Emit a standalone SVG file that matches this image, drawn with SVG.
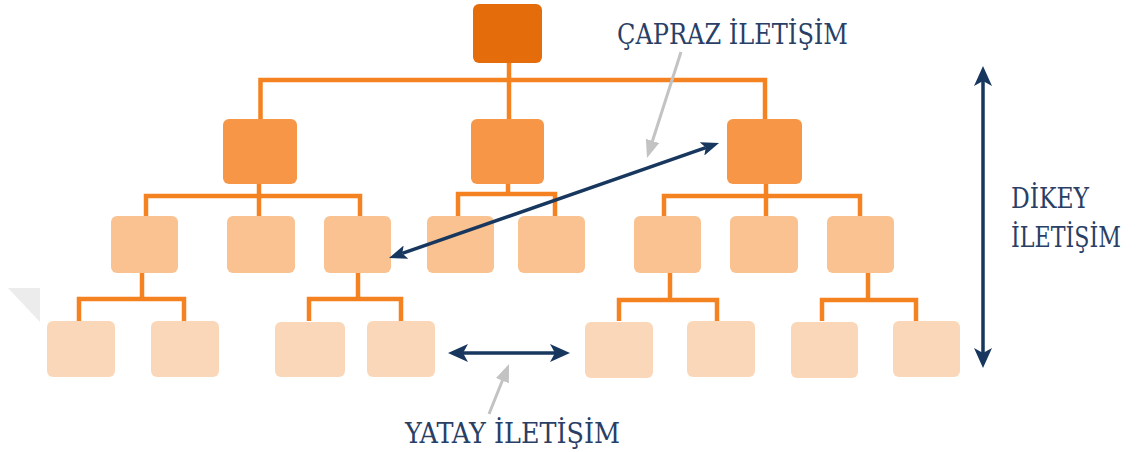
<svg xmlns="http://www.w3.org/2000/svg" width="1141" height="452" viewBox="0 0 1141 452">
  <style>
    .l1 { fill: #E46C0A; }
    .l2 { fill: #F79646; }
    .l3 { fill: #F9C290; }
    .l4 { fill: #FBD7B9; }
    .wire { fill: none; stroke: #F58220; stroke-width: 4.5; stroke-linejoin: miter; }
    .nav { fill: none; stroke: #17375E; stroke-width: 3.5; }
    .hint { fill: none; stroke: #C3C3C3; stroke-width: 3; }
    .lbl { font-family: "DejaVu Serif", "Liberation Serif", serif; font-stretch: condensed; font-size: 28px; fill: #2A3F66; }
  </style>
  <defs>
    <marker id="headBig" markerUnits="userSpaceOnUse" viewBox="0 0 20 18" markerWidth="20" markerHeight="18" refX="5" refY="9" orient="auto-start-reverse">
      <path d="M0,0 L20,9 L0,18 L5,9 z" fill="#17375E"/>
    </marker>
    <marker id="headSmall" markerUnits="userSpaceOnUse" viewBox="0 0 18 14" markerWidth="18" markerHeight="14" refX="4" refY="7" orient="auto-start-reverse">
      <path d="M0,0 L18,7 L0,14 L4,7 z" fill="#17375E"/>
    </marker>
    <marker id="headGrey" markerUnits="userSpaceOnUse" viewBox="0 0 18 14" markerWidth="18" markerHeight="14" refX="2" refY="7" orient="auto">
      <path d="M0,0 L18,7 L0,14 z" fill="#C3C3C3"/>
    </marker>
  </defs>

  <rect width="1141" height="452" fill="#FFFFFF"/>
  <!-- faint corner mark -->
  <polygon points="8,288 40,288 40,322" fill="#ECECEC"/>

  <!-- tree wiring -->
  <g id="connectors">
    <path class="wire" d="M509,62 V80 M260.5,119 V80 H765 V119 M509,80 V119"/>
    <path class="wire" d="M259,184 V196 M146,216 V196 H360 V216 M259,196 V216"/>
    <path class="wire" d="M508,184 V194 M458,216 V194 H555 V216"/>
    <path class="wire" d="M766,184 V196 M664,216 V196 H860 V216 M766,196 V216"/>
    <path class="wire" d="M142,273 V299 M79,321 V299 H184 V321"/>
    <path class="wire" d="M358,273 V299 M309,321 V299 H401 V321"/>
    <path class="wire" d="M670,273 V300 M619,321 V300 H717 V321"/>
    <path class="wire" d="M868,273 V300 M822,321 V300 H916 V321"/>
  </g>

  <!-- level 1 -->
  <g id="n-top"><rect class="l1" x="473" y="4" width="69" height="59" rx="6"/></g>

  <!-- level 2 -->
  <g id="n-2a"><rect class="l2" x="223" y="119" width="74" height="65" rx="6"/></g>
  <g id="n-2b"><rect class="l2" x="471" y="119" width="73" height="65" rx="6"/></g>
  <g id="n-2c"><rect class="l2" x="727" y="119" width="75" height="65" rx="6"/></g>

  <!-- level 3 -->
  <g id="n-3a"><rect class="l3" x="111" y="216" width="67" height="57" rx="6"/></g>
  <g id="n-3b"><rect class="l3" x="227" y="216" width="68" height="57" rx="6"/></g>
  <g id="n-3c"><rect class="l3" x="324" y="216" width="67" height="57" rx="6"/></g>
  <g id="n-3d"><rect class="l3" x="427" y="216" width="67" height="57" rx="6"/></g>
  <g id="n-3e"><rect class="l3" x="518" y="216" width="67" height="57" rx="6"/></g>
  <g id="n-3f"><rect class="l3" x="634" y="216" width="67" height="57" rx="6"/></g>
  <g id="n-3g"><rect class="l3" x="730" y="216" width="68" height="57" rx="6"/></g>
  <g id="n-3h"><rect class="l3" x="827" y="216" width="67" height="57" rx="6"/></g>

  <!-- level 4 -->
  <g id="n-4a"><rect class="l4" x="47" y="321" width="68" height="56" rx="6"/></g>
  <g id="n-4b"><rect class="l4" x="151" y="321" width="68" height="56" rx="6"/></g>
  <g id="n-4c"><rect class="l4" x="275" y="322" width="70" height="55" rx="6"/></g>
  <g id="n-4d"><rect class="l4" x="367" y="321" width="68" height="56" rx="6"/></g>
  <g id="n-4e"><rect class="l4" x="585" y="322" width="68" height="56" rx="6"/></g>
  <g id="n-4f"><rect class="l4" x="687" y="321" width="68" height="56" rx="6"/></g>
  <g id="n-4g"><rect class="l4" x="791" y="322" width="67" height="56" rx="6"/></g>
  <g id="n-4h"><rect class="l4" x="893" y="321" width="67" height="56" rx="6"/></g>

  <!-- communication arrows -->
  <g id="arrows">
    <line class="nav" x1="983" y1="81" x2="983" y2="353" marker-start="url(#headBig)" marker-end="url(#headBig)"/>
    <line class="nav" x1="463" y1="353" x2="555" y2="353" marker-start="url(#headBig)" marker-end="url(#headBig)"/>
    <line class="nav" x1="402.2" y1="253.4" x2="705.8" y2="147.6" marker-start="url(#headSmall)" marker-end="url(#headSmall)"/>
    <line class="hint" x1="681" y1="52" x2="651.9" y2="142.8" marker-end="url(#headGrey)"/>
    <line class="hint" x1="489" y1="414" x2="503.1" y2="378.8" marker-end="url(#headGrey)"/>
  </g>

  <!-- labels -->
  <g id="labels">
    <text class="lbl" x="617" y="44" textLength="231" lengthAdjust="spacingAndGlyphs">ÇAPRAZ İLETİŞİM</text>
    <text class="lbl" x="405" y="443" textLength="215" lengthAdjust="spacingAndGlyphs">YATAY İLETİŞİM</text>
    <text class="lbl" x="1011" y="208" textLength="78" lengthAdjust="spacingAndGlyphs">DİKEY</text>
    <text class="lbl" x="1011" y="247" textLength="110" lengthAdjust="spacingAndGlyphs">İLETİŞİM</text>
  </g>
</svg>
